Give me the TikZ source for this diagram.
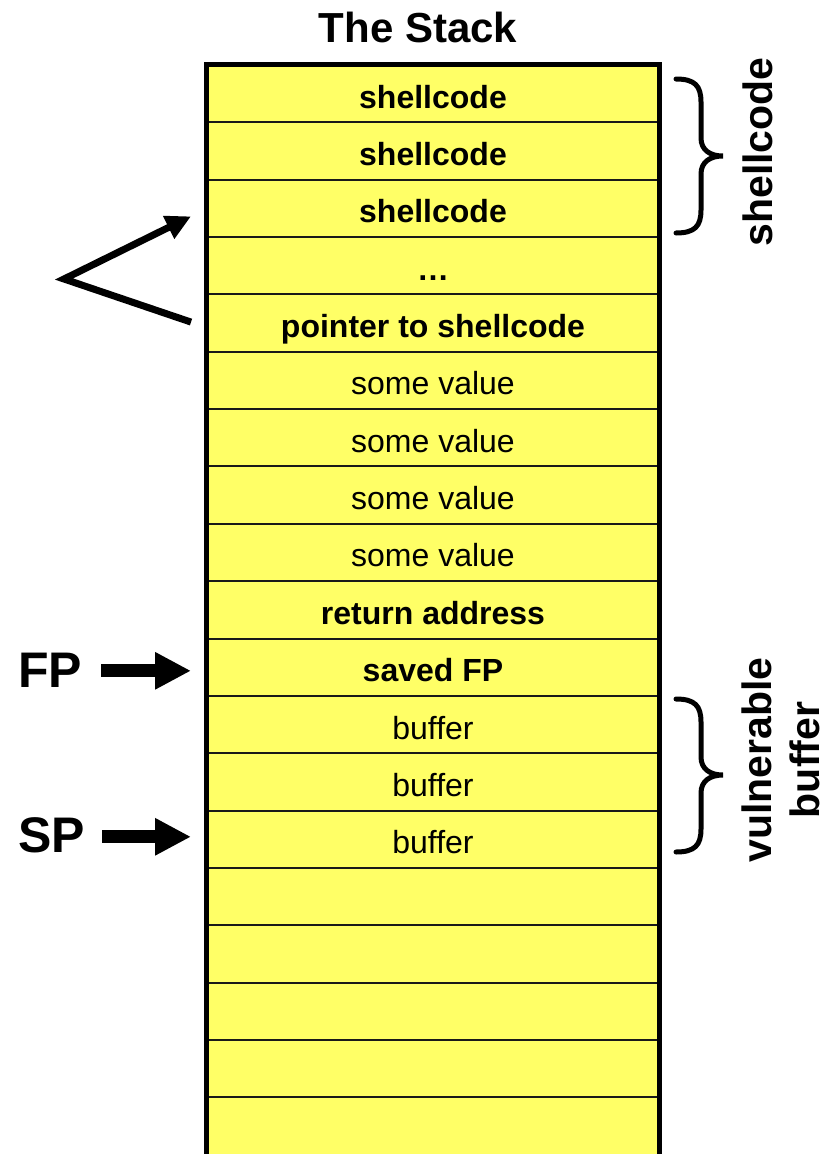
\documentclass[tikz,border=0pt]{standalone}
\usepackage{fontspec}
\setmainfont{Liberation Sans}
\usetikzlibrary{arrows.meta,calc}
\definecolor{stackyellow}{HTML}{FFFF66}
\begin{document}
\begin{tikzpicture}[x=1pt,y=-1pt,
  row/.style={draw=black!90, line width=2pt, fill=stackyellow,
    minimum width=452pt, minimum height=57.35pt, inner sep=0pt,
    text height=29pt, text depth=0pt, font=\fontsize{32}{38}\selectfont},
  boldrow/.style={row, font=\fontsize{32}{38}\selectfont\bfseries},
  frame/.style={line width=5pt, line join=miter},
  bigarrow/.style={line width=13pt, -{Triangle[length=36pt,width=35pt]}},
  varrow/.style={line width=7pt, line join=miter, -{Triangle[length=25pt,width=24pt]}},
  bracepath/.style={line width=5pt, line cap=round},
  sidelabel/.style={font=\fontsize{41}{48}\selectfont\bfseries, inner sep=0pt, rotate=90, align=center},
  ptrlabel/.style={font=\fontsize{50}{58}\selectfont\bfseries, inner sep=0pt, anchor=base west}
]
\useasboundingbox (0,0) rectangle (827,1154);

% title
\node[font=\fontsize{42}{50}\selectfont\bfseries, inner sep=0pt, anchor=base] (title) at (418,42) {The Stack};

% rows
\node[boldrow] (r1) at (433,{65+57.35*0.5}) {shellcode};
\node[boldrow] (r2) at (433,{65+57.35*1.5}) {shellcode};
\node[boldrow] (r3) at (433,{65+57.35*2.5}) {shellcode};
\node[boldrow] (r4) at (433,{65+57.35*3.5}) {\dots};
\node[boldrow] (r5) at (433,{65+57.35*4.5}) {pointer to shellcode};
\node[row] (r6) at (433,{65+57.35*5.5}) {some value};
\node[row] (r7) at (433,{65+57.35*6.5}) {some value};
\node[row] (r8) at (433,{65+57.35*7.5}) {some value};
\node[row] (r9) at (433,{65+57.35*8.5}) {some value};
\node[boldrow] (r10) at (433,{65+57.35*9.5}) {return address};
\node[boldrow] (r11) at (433,{65+57.35*10.5}) {saved FP};
\node[row] (r12) at (433,{65+57.35*11.5}) {buffer};
\node[row] (r13) at (433,{65+57.35*12.5}) {buffer};
\node[row] (r14) at (433,{65+57.35*13.5}) {buffer};
\node[row] (r15) at (433,{65+57.35*14.5}) {};
\node[row] (r16) at (433,{65+57.35*15.5}) {};
\node[row] (r17) at (433,{65+57.35*16.5}) {};
\node[row] (r18) at (433,{65+57.35*17.5}) {};
\node[row] (r19) at (433,{65+57.35*18.5}) {};

% outer frame (open at bottom)
\draw[frame] (206.5,1160) -- (206.5,64) -- (659.5,64) -- (659.5,1160);

% FP / SP pointers
\node[ptrlabel] (fp) at (18,687) {FP};
\node[ptrlabel] (sp) at (18,852) {SP};
\draw[bigarrow] ($(fp.east)+(19,1)$) -- ($(fp.east -| r11.west)+(-15,1)$);
\draw[bigarrow] ($(sp.east)+(17,2)$) -- ($(sp.east -| r14.west)+(-15,2)$);

% pointer arrow
\coordinate (vtx) at (64,279);
\draw[varrow] ($(r5.west)+(-15,-1)$) -- (vtx) -- ($(r3.west)+(-15,8)$);

% braces
\draw[bracepath] (676,79) .. controls (695,79) and (701,86) .. (701,102) -- (701,138)
  .. controls (701,150) and (710,156) .. (723,156)
  .. controls (710,156) and (701,162) .. (701,174) -- (701,210)
  .. controls (701,226) and (695,233) .. (676,233);
\draw[bracepath] (676,699) .. controls (695,699) and (701,706) .. (701,722) -- (701,757)
  .. controls (701,769) and (710,775) .. (723,775)
  .. controls (710,775) and (701,781) .. (701,793) -- (701,829)
  .. controls (701,845) and (695,852) .. (676,852);

% side labels
\node[sidelabel] (lshell) at (758,152) {shellcode};
\node[sidelabel] (lbuf) at (781,760) {vulnerable\\buffer};
\end{tikzpicture}
\end{document}
